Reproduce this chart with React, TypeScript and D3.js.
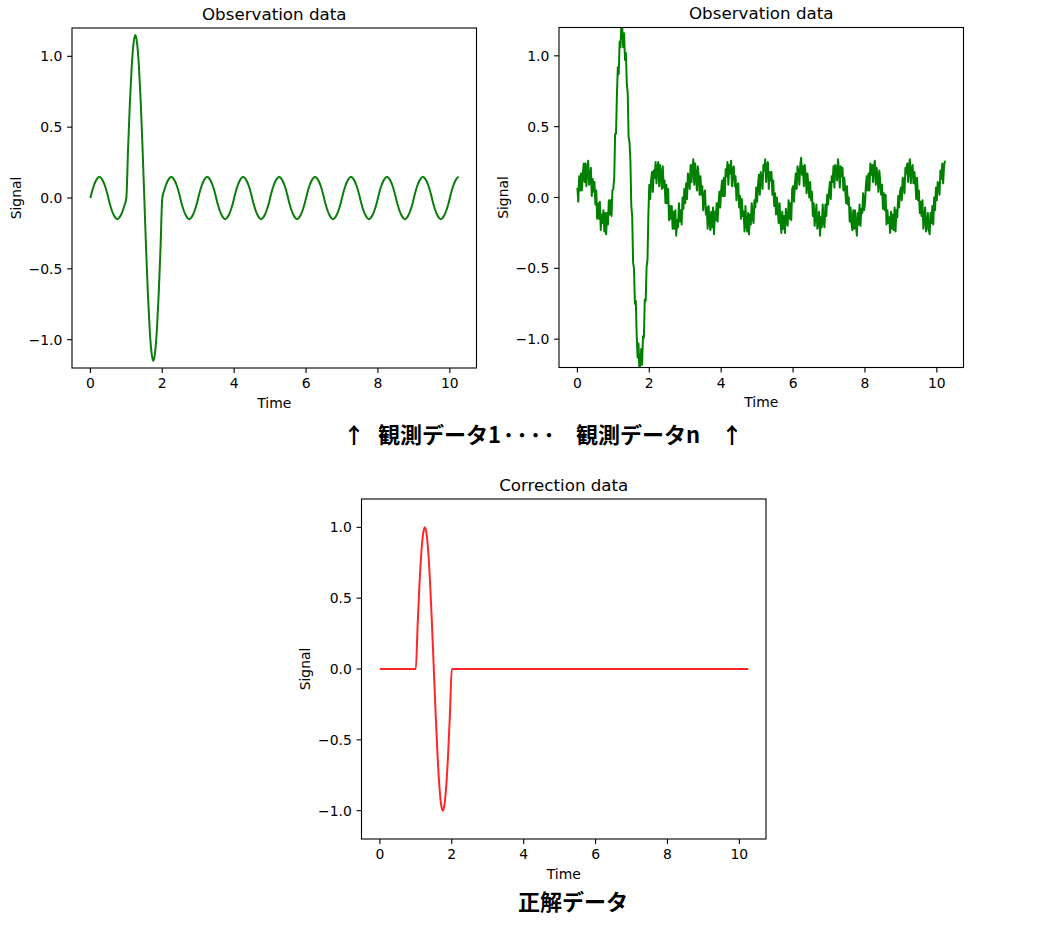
import React from 'react';
import * as d3 from 'd3';

// ---------- data ----------
const xTicks = [0, 2, 4, 6, 8, 10];
const yTicks = [-1.0, -0.5, 0.0, 0.5, 1.0];

// clean observation, sampled every 0.05 s from t = 0 to 10.25
const cleanStep = 0.05;
const cleanObservation = [
  0, .05, .09, .12, .14, .15, .14, .12, .09, .05, 0, -.05, -.09, -.12, -.14, -.15, -.14, -.12, -.09, -.05,
  0, .36, .68, .93, 1.09, 1.15, 1.09, .93, .68, .36, 0, -.36, -.68, -.93, -1.09, -1.15, -1.09, -.93, -.68, -.36,
  0, .05, .09, .12, .14, .15, .14, .12, .09, .05, 0, -.05, -.09, -.12, -.14, -.15, -.14, -.12, -.09, -.05,
  0, .05, .09, .12, .14, .15, .14, .12, .09, .05, 0, -.05, -.09, -.12, -.14, -.15, -.14, -.12, -.09, -.05,
  0, .05, .09, .12, .14, .15, .14, .12, .09, .05, 0, -.05, -.09, -.12, -.14, -.15, -.14, -.12, -.09, -.05,
  0, .05, .09, .12, .14, .15, .14, .12, .09, .05, 0, -.05, -.09, -.12, -.14, -.15, -.14, -.12, -.09, -.05,
  0, .05, .09, .12, .14, .15, .14, .12, .09, .05, 0, -.05, -.09, -.12, -.14, -.15, -.14, -.12, -.09, -.05,
  0, .05, .09, .12, .14, .15, .14, .12, .09, .05, 0, -.05, -.09, -.12, -.14, -.15, -.14, -.12, -.09, -.05,
  0, .05, .09, .12, .14, .15, .14, .12, .09, .05, 0, -.05, -.09, -.12, -.14, -.15, -.14, -.12, -.09, -.05,
  0, .05, .09, .12, .14, .15, .14, .12, .09, .05, 0, -.05, -.09, -.12, -.14, -.15, -.14, -.12, -.09, -.05,
  0, .05, .09, .12, .14, .15,
];

// noisy observation, sampled every 0.025 s from t = 0 to 10.225
const noisyStep = 0.025;
const noisyObservation = [
  .07, -.03, .15, .05, .17, .05, .16, .24, .11, .24, .08, .20, .26, .09, .14, .21, .01, .13, .04, .11, -.05, .05, -.15, -.04, -.15, -.03, -.23, -.12, -.18, -.09, -.24, -.11, -.26, -.11, -.19, -.02, -.12, -.02, -.13, .05,
  .06, .14, .45, .45, .73, .92, .87, 1.10, 1.06, 1.25, 1.19, 1.06, 1.16, .97, 1.02, .80, .74, .43, .39, .26, -.06, -.13, -.46, -.50, -.75, -.73, -.97, -1.13, -1.03, -1.22, -1.18, -1.07, -1.18, -.98, -.99, -.72, -.73, -.49, -.44, -.12,
  .09, -.01, .12, .18, .04, .19, .14, .25, .10, .21, .25, .08, .23, .16, .06, .22, .07, .12, -.04, .09, -.04, .06, -.16, -.06, -.15, -.06, -.22, -.10, -.22, -.09, -.27, -.16, -.21, -.04, -.17, -.09, -.19, 0, -.08, .06,
  -.04, .10, -.01, .17, .12, .06, .23, .11, .21, .27, .09, .24, .15, .05, .22, .15, .02, .15, .02, .08, -.09, .02, .05, -.12, -.07, -.22, -.06, -.16, -.23, -.10, -.21, -.07, -.26, -.10, -.16, -.04, -.17, -.05, .04, -.07,
  .05, .12, .01, .14, .01, .20, .15, .25, .09, .23, .17, .26, .08, .20, .22, .08, .15, -.02, .09, .10, -.07, .01, -.15, -.01, -.13, -.10, -.24, -.06, -.19, -.24, -.11, -.26, -.12, -.19, -.04, -.14, -.18, -.02, -.07, .07,
  -.03, .09, .16, .02, .18, .13, .06, .23, .19, .27, .11, .23, .25, .06, .18, .12, .18, .02, .12, -.06, .03, -.12, 0, -.09, -.18, -.04, -.17, -.25, -.10, -.22, -.13, -.25, -.08, -.17, -.20, -.02, -.15, -.04, -.16, .06,
  .08, -.03, .09, .17, .06, .22, .18, .09, .23, .28, .16, .22, .08, .23, .16, .03, .17, .09, 0, .11, -.02, .04, -.13, -.04, -.20, -.13, -.05, -.22, -.18, -.10, -.27, -.14, -.21, -.05, -.17, -.21, -.05, -.13, .02, -.05,
  .04, .11, -.01, .15, .11, .22, .07, .23, .20, .12, .27, .20, .07, .22, .15, .21, .05, .14, .06, -.04, .08, -.05, 0, -.17, -.07, -.18, -.23, -.09, -.22, -.09, -.20, -.27, -.11, -.19, -.05, -.20, -.08, -.11, .03, -.09,
  -.05, .08, .15, .05, .17, .05, .24, .16, .23, .11, .22, .26, .09, .21, .14, .04, .19, .11, .02, .09, -.08, .03, -.09, .02, -.19, -.09, -.18, -.14, -.25, -.10, -.22, -.12, -.23, -.07, -.24, -.09, -.14, .01, -.07, .04,
  .07, -.02, .14, .10, .03, .21, .17, .24, .11, .23, .27, .10, .20, .23, .10, .18, .12, -.01, .14, -.02, .05, -.11, -.03, -.13, -.02, -.22, -.15, -.07, -.24, -.20, -.11, -.23, -.26, -.11, -.18, -.06, -.19, 0, -.09, .07,
  -.02, .11, .09, .02, .19, .13, .24, .10, .22, .26,
];

// correction (ground truth) data: knots in time and value
const correctionTime = [0, 1, 1.05, 1.1, 1.15, 1.2, 1.25, 1.3, 1.35, 1.4, 1.45, 1.5, 1.55, 1.6, 1.65, 1.7, 1.75, 1.8, 1.85, 1.9, 1.95, 2, 10.25];
const correctionValue = [0, 0, .31, .59, .81, .95, 1, .95, .81, .59, .31, 0, -.31, -.59, -.81, -.95, -1, -.95, -.81, -.59, -.31, 0, 0];

const cleanTime = d3.range(cleanObservation.length).map((i) => i * cleanStep);
const noisyTime = d3.range(noisyObservation.length).map((i) => i * noisyStep);

// ---------- drawing ----------
const FONT = '"DejaVu Sans", Verdana, sans-serif';
const CJK = '"Noto Sans CJK JP", "Noto Sans CJK SC", sans-serif';
const W = 404.5;
const H = 340;
const fmt = d3.format('.1f');

type PanelProps = {
  id: string;
  left: number;
  top: number;
  title: string;
  times: number[];
  values: number[];
  color: string;
  lineWidth: number;
  curve: d3.CurveFactory;
};

function Panel({ id, left, top, title, times, values, color, lineWidth, curve }: PanelProps) {
  const x = d3.scaleLinear().domain([-0.5115, 10.7415]).range([left, left + W]);
  const y = d3.scaleLinear().domain([-1.2, 1.2]).range([top + H, top]);
  const line = d3
    .line<number>()
    .x((_, i) => x(times[i]))
    .y((d) => y(d))
    .curve(curve);
  const tickLen = 4.9;
  return (
    <g>
      <defs>
        <clipPath id={id}>
          <rect x={left} y={top} width={W} height={H} />
        </clipPath>
      </defs>
      <path d={line(values) || ''} fill="none" stroke={color} strokeWidth={lineWidth} strokeLinejoin="round" clipPath={`url(#${id})`} />
      <rect x={left} y={top} width={W} height={H} fill="none" stroke="#000" strokeWidth={1.1} />
      {xTicks.map((t) => (
        <g key={'x' + t}>
          <line x1={x(t)} x2={x(t)} y1={top + H} y2={top + H + tickLen} stroke="#000" strokeWidth={1.1} />
          <text x={x(t)} y={top + H + 20} textAnchor="middle" fontFamily={FONT} fontSize={13.9} fill="#000">
            {t}
          </text>
        </g>
      ))}
      {yTicks.map((t) => (
        <g key={'y' + t}>
          <line x1={left - tickLen} x2={left} y1={y(t)} y2={y(t)} stroke="#000" strokeWidth={1.1} />
          <text x={left - 9.7} y={y(t) + 5} textAnchor="end" fontFamily={FONT} fontSize={13.9} fill="#000">
            {fmt(t)}
          </text>
        </g>
      ))}
      <text x={left + W / 2} y={top + H + 39.5} textAnchor="middle" fontFamily={FONT} fontSize={13.9} fill="#000">
        Time
      </text>
      <text
        transform={`translate(${left - 51.5},${top + H / 2}) rotate(-90)`}
        textAnchor="middle"
        fontFamily={FONT}
        fontSize={13.9}
        fill="#000"
      >
        Signal
      </text>
      <text x={left + W / 2} y={top - 8.3} textAnchor="middle" fontFamily={FONT} fontSize={16.7} fill="#000">
        {title}
      </text>
    </g>
  );
}

export default function App() {
  return (
    <svg width={1044} height={930} style={{ position: 'absolute', left: 0, top: 0, background: '#fff' }}>
      <rect x={0} y={0} width={1044} height={930} fill="#fff" />
      <Panel
        id="clipA"
        left={72}
        top={28}
        title="Observation data"
        times={cleanTime}
        values={cleanObservation}
        color="#0b7d0b"
        lineWidth={2}
        curve={d3.curveMonotoneX}
      />
      <Panel
        id="clipB"
        left={559}
        top={27.5}
        title="Observation data"
        times={noisyTime}
        values={noisyObservation}
        color="#008000"
        lineWidth={2}
        curve={d3.curveLinear}
      />
      <Panel
        id="clipC"
        left={361.5}
        top={499}
        title="Correction data"
        times={correctionTime}
        values={correctionValue}
        color="rgba(255,0,0,0.85)"
        lineWidth={2}
        curve={d3.curveMonotoneX}
      />
      <g fontFamily={CJK} fontWeight="bold" fontSize={22} fill="#000">
        <text x={343} y={443}>↑</text>
        <text x={378} y={443}>観測データ1</text>
        <text x={503} y={443} letterSpacing={2.5}>････</text>
        <text x={576} y={443}>観測データn</text>
        <text x={721} y={443}>↑</text>
        <text x={573} y={910} textAnchor="middle">正解データ</text>
      </g>
    </svg>
  );
}
